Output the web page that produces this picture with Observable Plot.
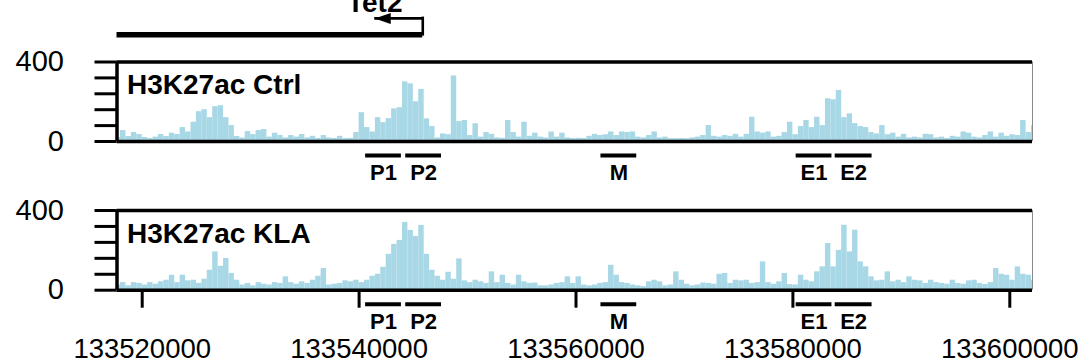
<!DOCTYPE html>
<html><head><meta charset="utf-8">
<script src="https://cdn.jsdelivr.net/npm/d3@7"></script>
<script src="https://cdn.jsdelivr.net/npm/@observablehq/plot@0.6"></script>
<style>
html,body{margin:0;padding:0;background:#fff;}
#chart{width:1079px;height:363px;overflow:hidden;}
#chart svg{display:block;}
</style></head><body><div id="chart"></div>
<script>
// ---- data ----
const binStart = 133517500;
const binWidth = 500;
const ctrlValues = [
20,55,25,45,35,20,15,22,35,25, 42,35,70,48,97,150,160,120,175,180,
120,80,25,18,50,35,55,60,22,42, 30,18,30,22,35,18,26,15,30,18,
15,26,15,16,45,145,70,48,120,95, 115,164,170,300,290,200,262,114,75,18,
38,34,330,100,106,30,89,22,45,36, 18,16,106,45,22,97,26,42,22,18,
48,22,42,18,15,16,15,26,36,30, 34,48,30,48,45,48,22,18,30,48,
18,22,14,14,15,14,18,22,30,80, 26,22,30,26,36,22,36,122,48,42,
48,22,26,45,97,34,75,106,70,122, 80,215,210,257,120,139,90,75,70,45,
38,80,34,42,22,36,18,22,18,36, 34,18,22,15,26,22,48,42,22,18,
30,48,22,42,26,34,30,106,45,80];
const klaValues = [
26,38,22,38,34,26,38,30,42,50, 75,38,75,47,50,34,55,100,192,120,
159,84,50,26,34,22,38,30,26,38, 34,67,38,30,42,34,50,70,109,26,
30,34,47,42,50,38,50,70,80,115, 180,230,250,340,300,270,325,180,100,70,
50,90,55,157,47,38,50,42,34,92, 38,75,34,26,75,42,34,36,22,22,
26,34,38,67,34,67,26,22,26,34, 38,125,75,38,34,26,22,18,42,50,
42,22,26,92,50,30,22,26,36,34, 30,80,84,34,50,47,50,34,38,142,
38,30,42,84,28,26,75,50,42,92, 117,234,117,200,326,192,301,142,117,67,
47,50,92,42,50,38,67,50,47,34, 50,38,34,30,50,34,30,47,50,34,
28,38,109,80,75,50,117,80,75,50];
const trackNames = ["H3K27ac Ctrl", "H3K27ac KLA"];
const regionNames = ["P1", "P2", "M", "E1", "E2"];
const regionStarts = [133540600, 133544300, 133562300, 133580300, 133583900];
const regionEnds   = [133543900, 133547600, 133565600, 133583600, 133587300];
const xTicks = [133520000, 133540000, 133560000, 133580000, 133600000];
const yTicks = [0, 80, 160, 240, 320, 400];
const yTickLabels = [0, 400];
const geneName = "Tet2";
const geneStart = 133517000;
const geneTSS = 133545870;
const geneArrowTip = 133541440;
const xDomain = [133517676, 133602093];
const yDomain = [0, 400];

// ---- styles ----
const signalColor = "#a8d7e5";
const font = "'Liberation Sans', Arial, Helvetica, sans-serif";
const W = 1079, ML = 116.5, MR = 47;
const baseStyle = {fontFamily: font, color: "black", background: "white", overflow: "visible"};

const bins = vals => vals.map((v, i) => ({x1: binStart + i * binWidth, x2: binStart + (i + 1) * binWidth, v}));
const regions = regionNames.map((n, i) => ({name: n, start: regionStarts[i], end: regionEnds[i], mid: (regionStarts[i] + regionEnds[i]) / 2}));
const gene = [{name: geneName, start: geneStart, tss: geneTSS, tip: geneArrowTip}];

const leftHead = {draw(ctx) { ctx.moveTo(0, 0); ctx.lineTo(16, -5.5); ctx.lineTo(16, 5.5); ctx.closePath(); }};

const genePlot = Plot.plot({
  width: W, height: 48, marginLeft: ML, marginRight: MR, marginTop: 17.9, marginBottom: 13.7,
  x: {domain: xDomain, axis: null}, y: {domain: [0, 1], axis: null},
  style: {...baseStyle, overflow: "hidden"},
  marks: [
    Plot.ruleY(gene, {x1: d => Math.max(d.start, xDomain[0]), x2: "tss", y: () => 0, strokeWidth: 5.5, stroke: "black"}),
    Plot.ruleX(gene, {x: "tss", y1: () => 0, y2: () => 1, strokeWidth: 2.6, stroke: "black", strokeLinecap: "square"}),
    Plot.ruleY(gene, {x1: "tip", x2: "tss", y: () => 1, strokeWidth: 2.6, stroke: "black"}),
    Plot.dot(gene, {x: "tip", y: () => 1, symbol: leftHead, r: 6, fill: "black", stroke: "none"}),
    Plot.text(gene, {x: "tip", y: () => 1, text: "name", dy: -15, fontSize: 28, fontWeight: "bold"})
  ]
});

function track(name, values, o) {
  const marks = [
    Plot.rectY(bins(values), {x1: "x1", x2: "x2", y: "v", fill: signalColor, clip: true}),
    Plot.ruleY(yDomain, {stroke: "black", strokeWidth: 3.5}),
    Plot.ruleX([xDomain[0]], {stroke: "black", strokeWidth: 3.5}),
    Plot.ruleX([xDomain[1]], {stroke: "#8a8a8a", strokeWidth: 1}),
    Plot.axisY({ticks: yTicks, tickSize: 22, tickPadding: 31, tickFormat: d => yTickLabels.includes(d) ? String(d) : "", fontSize: 29, strokeWidth: 3, label: null}),
    Plot.ruleY(regions, {x1: "start", x2: "end", y: () => 0, dy: 14, strokeWidth: 4, stroke: "black"}),
    Plot.text(regions, {x: "mid", y: () => 0, text: "name", dy: 31.5, fontSize: 22, fontWeight: "bold"}),
    Plot.text([name], {frameAnchor: "top-left", text: d => d, dx: 10, dy: o.labelDy, fontSize: 28, fontWeight: "bold"})
  ];
  if (o.xAxis) marks.push(Plot.axisX({ticks: xTicks, tickSize: 18, tickPadding: 30, tickFormat: d => String(d), fontSize: 27.5, strokeWidth: 3, label: null}));
  return Plot.plot({
    width: W, height: o.height, marginLeft: ML, marginRight: MR, marginTop: o.top, marginBottom: o.bottom,
    x: {domain: xDomain, axis: null}, y: {domain: yDomain, axis: null},
    style: baseStyle,
    marks
  });
}

const chart = document.getElementById("chart");
chart.appendChild(genePlot);
chart.appendChild(track(trackNames[0], ctrlValues, {height: 148, top: 13.5, bottom: 55, labelDy: 12}));
chart.appendChild(track(trackNames[1], klaValues, {height: 167, top: 14, bottom: 73.3, labelDy: 13, xAxis: true}));
</script>
</body></html>
